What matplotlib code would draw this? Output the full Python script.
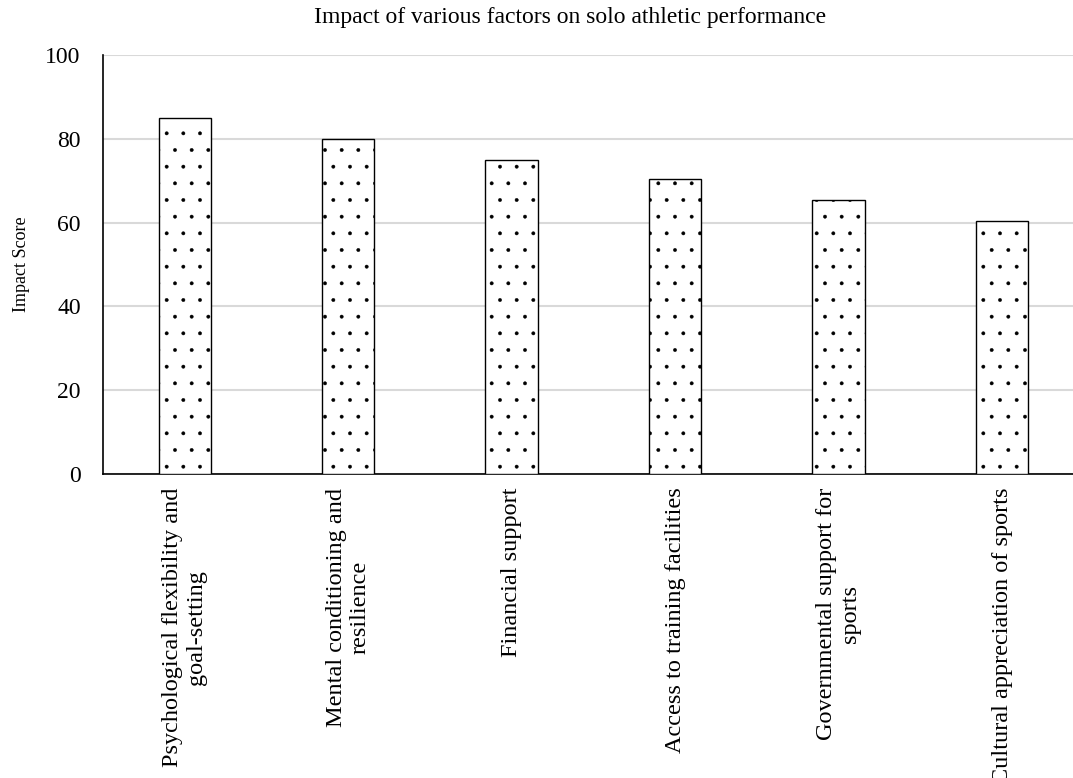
import matplotlib
matplotlib.use("Agg")
import matplotlib.pyplot as plt

plt.rcParams['font.family'] = ['Liberation Serif', 'DejaVu Serif']
plt.rcParams['hatch.linewidth'] = 0.3
plt.rcParams['hatch.color'] = '#222222'

factors = [
    "Psychological flexibility and\ngoal-setting",
    "Mental conditioning and\nresilience",
    "Financial support",
    "Access to training facilities",
    "Governmental support for\nsports",
    "Cultural appreciation of sports",
]
scores = [85, 80, 75, 70.5, 65.3, 60.5]
yticks = [0, 20, 40, 60, 80, 100]

fig = plt.figure(figsize=(10.73, 7.78), dpi=100)
ax = fig.add_axes([0.096, 0.391, 0.914, 0.538])

x = list(range(len(factors)))
ax.bar(x, scores, width=0.32, color='white', edgecolor='black',
       linewidth=1.0, hatch='.', zorder=3)

ax.set_xlim(-0.5, len(factors) - 0.5)
ax.set_ylim(0, 100)
ax.set_yticks(yticks)
ax.yaxis.grid(True, color='#d9d9d9', linewidth=1.5, zorder=0)
ax.set_axisbelow(True)

ax.set_xticks(x)
ax.set_xticklabels(factors, rotation=90, fontsize=17.5, ha='center',
                   multialignment='center')
ax.tick_params(axis='x', length=0, pad=10)
ax.tick_params(axis='y', length=0, labelsize=17, pad=16)

for side in ['top', 'right']:
    ax.spines[side].set_visible(False)
ax.spines['left'].set_linewidth(1.2)
ax.spines['bottom'].set_linewidth(1.2)

ax.set_ylabel("Impact Score", fontsize=13, labelpad=11)
fig.text(0.531, 0.977, "Impact of various factors on solo athletic performance",
         ha='center', va='center', fontsize=17)

fig.savefig("out.png", dpi=100)
